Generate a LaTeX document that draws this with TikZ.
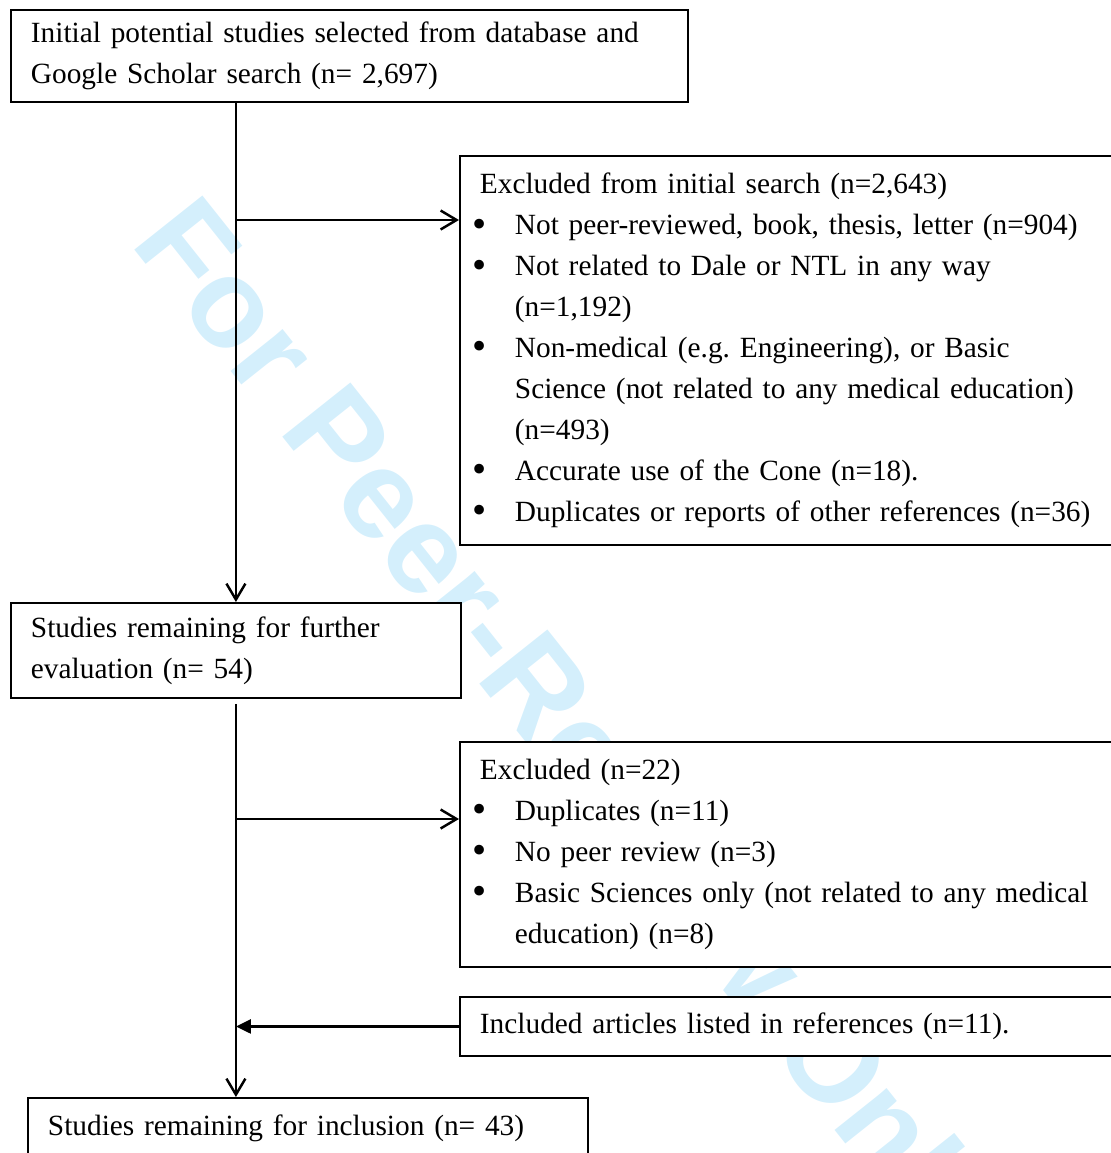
\documentclass[tikz,border=0pt]{standalone}
\usepackage{fontspec}
\setmainfont{Liberation Serif}
\newfontfamily\wmfont{Liberation Sans}
\usetikzlibrary{arrows.meta}
\definecolor{wmblue}{RGB}{212,239,252}
\frenchspacing
\newcommand{\bitem}{\hspace*{-0.14cm}\makebox[0.84cm][l]{\raisebox{-0.08em}{\fontsize{23pt}{0pt}\selectfont\textbullet}}}
\newcommand{\bcont}{\hspace*{0.7cm}}

\begin{document}
\begin{tikzpicture}[x=0.02cm, y=-0.02cm,
    box/.style={draw, line width=1.1pt, fill=white, anchor=north west, align=left,
        inner xsep=0.4cm, inner ysep=0pt, font={\fontsize{16.7pt}{23.3pt}\selectfont}},
    flow/.style={line width=1.4pt, -{Straight Barb[length=3.2mm,width=3.8mm]}},
    back/.style={line width=1.4pt, -{Triangle[length=3mm,width=2.8mm]}}]
                \useasboundingbox (0,0) rectangle (1111,1153);
                \clip (0,0) rectangle (1111,1153);

                \node[text=wmblue, anchor=base west, rotate=-51.5, inner sep=0pt,
                    font={\wmfont\bfseries\fontsize{72pt}{72pt}\selectfont}] (mark) at (129,243) {For Peer-Review Only};

                \node[box, text width=12.74cm, minimum height=1.84cm] (search) at (10,9)
                    {Initial potential studies selected from database and\\Google Scholar search (n= 2,697)};
                \node[box, text width=12.8cm, minimum height=7.78cm] (excl1) at (459,155)
                    {Excluded from initial search (n=2,643)\\
                     \bitem Not peer-reviewed, book, thesis, letter (n=904)\\
                     \bitem Not related to Dale or NTL in any way\\
                     \bcont (n=1,192)\\
                     \bitem Non-medical (e.g. Engineering), or Basic\\
                     \bcont Science (not related to any medical education)\\
                     \bcont (n=493)\\
                     \bitem Accurate use of the Cone (n=18).\\
                     \bitem Duplicates or reports of other references (n=36)};
                \node[box, text width=8.2cm, minimum height=1.9cm] (remain) at (10,602)
                    {Studies remaining for further\\evaluation (n= 54)};
                \node[box, text width=12.8cm, minimum height=4.5cm] (excl2) at (459,741)
                    {Excluded (n=22)\\
                     \bitem Duplicates (n=11)\\
                     \bitem No peer review (n=3)\\
                     \bitem Basic Sciences only (not related to any medical\\
                     \bcont education) (n=8)};
                \node[box, text width=12.8cm, minimum height=1.18cm] (incl) at (459,996)
                    {Included articles listed in references (n=11).};
                \node[box, text width=10.4cm, minimum height=1.2cm] (final) at (27,1097)
                    {Studies remaining for inclusion (n= 43)};

                \coordinate (split1) at (235,220);
                \coordinate (split2) at (235,819);
                \draw[flow] (remain.north |- search.south) -- (remain.north);
                \draw[flow] (split1) -- (split1 -| excl1.west);
                \draw[flow] ([yshift=-0.1cm]remain.south) -- (remain.south |- final.north);
                \draw[flow] (split2) -- (split2 -| excl2.west);
                \draw[back] (incl.west) -- (remain.south |- incl.west);
            \end{tikzpicture}
\end{document}
